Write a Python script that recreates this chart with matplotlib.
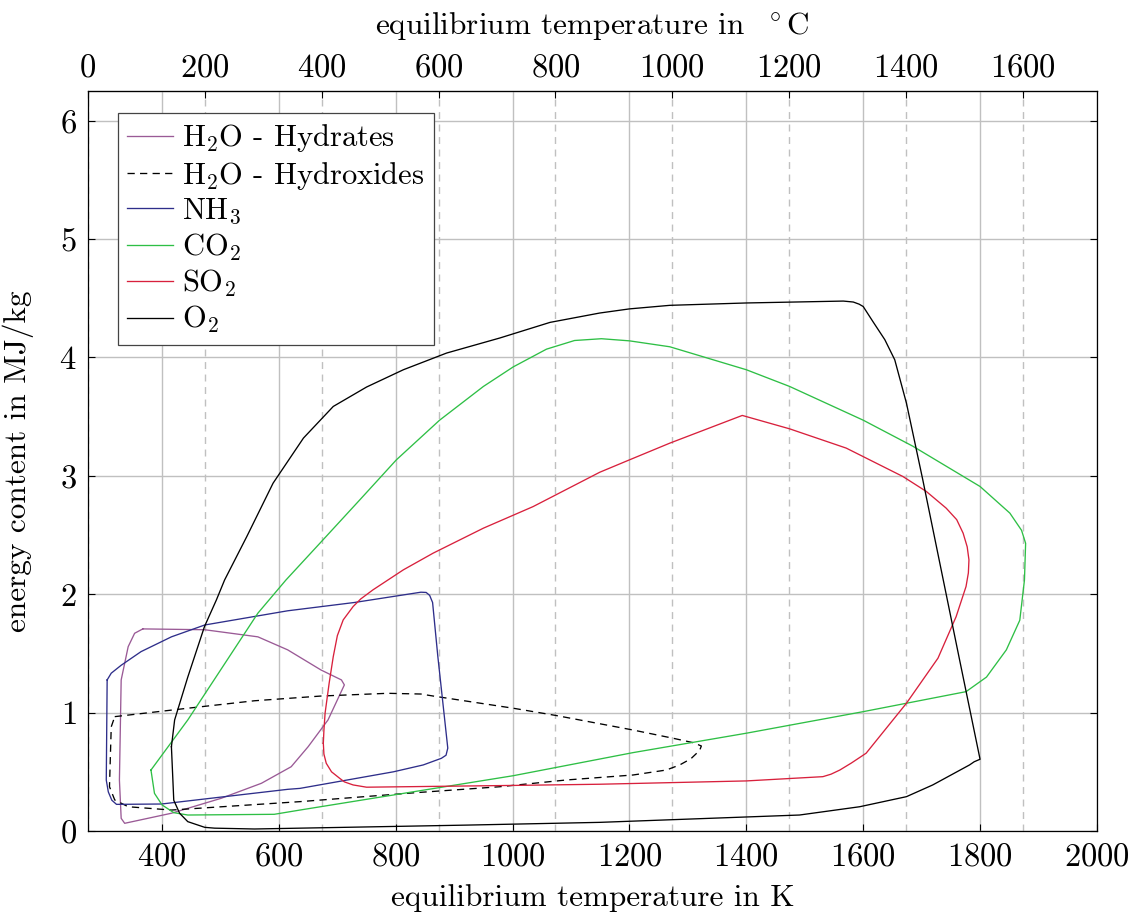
import matplotlib
matplotlib.use("Agg")
import matplotlib.pyplot as plt

plt.rcParams['font.family'] = ['cmr10', 'DejaVu Serif']
plt.rcParams['mathtext.fontset'] = 'cm'
plt.rcParams['axes.formatter.use_mathtext'] = True
plt.rcParams['axes.unicode_minus'] = False

# ---- data (T in K, energy in MJ/kg) ----
hydrates_T = [367, 473, 564, 615, 672, 707, 712, 684, 650, 621, 570, 501, 416, 336, 330, 327, 330, 342, 353, 367]
hydrates_E = [1.707, 1.70, 1.64, 1.53, 1.36, 1.276, 1.234, 0.938, 0.712, 0.543, 0.403, 0.276, 0.15, 0.065, 0.107, 0.43, 1.276, 1.557, 1.67, 1.707]

hydroxides_T = [319, 444, 558, 672, 786, 843, 864, 1001, 1075, 1206, 1275, 1310, 1323, 1320, 1305, 1286, 1263, 1206, 1092, 978, 835, 636, 416, 342, 319, 310, 313, 319]
hydroxides_E = [0.966, 1.037, 1.10, 1.14, 1.163, 1.157, 1.14, 1.037, 0.975, 0.853, 0.783, 0.745, 0.718, 0.680, 0.610, 0.558, 0.515, 0.473, 0.431, 0.374, 0.324, 0.248, 0.177, 0.205, 0.262, 0.374, 0.88, 0.966]

nh3_T = [306, 313, 330, 364, 416, 473, 615, 729, 843, 852, 858, 863, 872, 889, 886, 878, 847, 796, 636, 615, 399, 322, 314, 308, 304.5, 306]
nh3_E = [1.276, 1.333, 1.40, 1.515, 1.64, 1.74, 1.86, 1.93, 2.017, 2.015, 1.99, 1.93, 1.473, 0.70, 0.64, 0.614, 0.558, 0.50, 0.36, 0.352, 0.228, 0.225, 0.26, 0.33, 0.43, 1.276]

co2_T = [381, 444, 564, 612, 670, 739, 801, 875, 950, 1001, 1058, 1106, 1152, 1200, 1269, 1400, 1474, 1600, 1685, 1800, 1851, 1871, 1878, 1876, 1868, 1845, 1811, 1776, 1600, 1400, 1206, 1001, 807, 636, 592, 444, 420, 400, 387, 381]
co2_E = [0.515, 0.938, 1.84, 2.12, 2.43, 2.80, 3.135, 3.47, 3.755, 3.92, 4.07, 4.143, 4.158, 4.14, 4.09, 3.896, 3.755, 3.47, 3.25, 2.91, 2.685, 2.54, 2.43, 2.12, 1.78, 1.53, 1.30, 1.177, 1.008, 0.826, 0.662, 0.467, 0.313, 0.177, 0.141, 0.135, 0.155, 0.22, 0.318, 0.515]

so2_T = [676, 677, 679, 686, 693, 700, 710, 727, 740, 761, 813, 864, 950, 1035, 1149, 1200, 1269, 1393, 1474, 1571, 1668, 1708, 1742, 1760, 1771, 1778, 1781, 1780, 1776, 1759, 1728, 1674, 1605, 1580, 1560, 1545, 1531, 1400, 1149, 1001, 750, 727, 712, 704, 690, 681, 677, 676]
so2_E = [0.741, 0.85, 0.995, 1.25, 1.473, 1.65, 1.783, 1.896, 1.96, 2.037, 2.206, 2.347, 2.558, 2.74, 3.03, 3.135, 3.276, 3.51, 3.397, 3.234, 2.994, 2.868, 2.727, 2.63, 2.516, 2.40, 2.29, 2.18, 2.065, 1.81, 1.46, 1.079, 0.657, 0.575, 0.515, 0.48, 0.459, 0.423, 0.395, 0.385, 0.37, 0.389, 0.415, 0.445, 0.50, 0.572, 0.65, 0.741]

o2_T = [416, 421.5, 444, 472.6, 493, 507, 545, 590, 642, 693, 750, 813, 887, 978, 1064, 1149, 1200, 1269, 1400, 1566, 1583, 1593, 1600, 1617, 1637, 1654, 1674, 1685, 1702, 1765, 1800, 1790, 1782, 1719, 1674, 1594, 1491, 1149, 923, 558, 490, 473, 444, 430, 420, 419, 416]
o2_E = [0.712, 0.938, 1.30, 1.727, 1.952, 2.12, 2.487, 2.938, 3.319, 3.586, 3.75, 3.896, 4.037, 4.164, 4.296, 4.375, 4.41, 4.44, 4.46, 4.476, 4.468, 4.45, 4.43, 4.30, 4.15, 3.98, 3.614, 3.36, 2.966, 1.445, 0.606, 0.585, 0.558, 0.389, 0.29, 0.205, 0.135, 0.073, 0.05, 0.017, 0.024, 0.031, 0.079, 0.15, 0.26, 0.374, 0.712]

kelvin_ticks = [400, 600, 800, 1000, 1200, 1400, 1600, 1800, 2000]
celsius_ticks = [0, 200, 400, 600, 800, 1000, 1200, 1400, 1600]
energy_ticks = [0, 1, 2, 3, 4, 5, 6]

fig = plt.figure(figsize=(11.32, 9.15), dpi=100)
ax = fig.add_axes([0.0777, 0.0918, 0.969 - 0.0777, 0.9005 - 0.0918])

grid_c = '#c0c0c0'
for c in celsius_ticks:
    ax.axvline(c + 273.15, color=grid_c, lw=1.0, dashes=(5, 4), zorder=0)
ax.set_xticks(kelvin_ticks)
ax.set_yticks(energy_ticks)
ax.grid(True, color=grid_c, lw=1.0, zorder=0)
ax.set_axisbelow(True)

lw = 0.95
ax.plot(hydrates_T, hydrates_E, color='#9a5a96', lw=lw, label='H$_2$O - Hydrates')
ax.plot(hydroxides_T, hydroxides_E, color='black', lw=lw, dashes=(5.5, 4), label='H$_2$O - Hydroxides')
ax.plot(nh3_T, nh3_E, color='#2e2e8a', lw=lw, label='NH$_3$')
ax.plot(co2_T, co2_E, color='#2ebf45', lw=lw, label='CO$_2$')
ax.plot(so2_T, so2_E, color='#d8203c', lw=lw, label='SO$_2$')
ax.plot(o2_T, o2_E, color='black', lw=lw, label='O$_2$')

ax.set_xlim(273.15, 2000)
ax.set_ylim(0, 6.25)

ax.tick_params(axis='both', direction='in', length=5, width=0.8, labelsize=23.5, pad=8)
ax.tick_params(axis='y', right=True)
ax.tick_params(axis='x', top=False)

sec = ax.secondary_xaxis('top', functions=(lambda k: k - 273.15, lambda c: c + 273.15))
sec.set_xticks(celsius_ticks)
sec.tick_params(direction='in', length=5, width=0.8, labelsize=23.5, pad=6)
sec.set_xlabel('equilibrium temperature in  $^\\circ$C', fontsize=22.5, labelpad=14)

ax.set_xlabel('equilibrium temperature in K', fontsize=22.5, labelpad=9)
ax.set_ylabel('energy content in MJ/kg', fontsize=22.5, labelpad=18)

for s in ax.spines.values():
    s.set_linewidth(0.9)

leg = ax.legend(loc='upper left', bbox_to_anchor=(0.03, 0.97), fontsize=22, frameon=True,
                fancybox=False, edgecolor='#444444', framealpha=1, handlelength=1.5,
                handletextpad=0.3, labelspacing=0.17, borderpad=0.3, borderaxespad=0)
leg.get_frame().set_linewidth(0.9)

fig.savefig('out.png', dpi=100)
